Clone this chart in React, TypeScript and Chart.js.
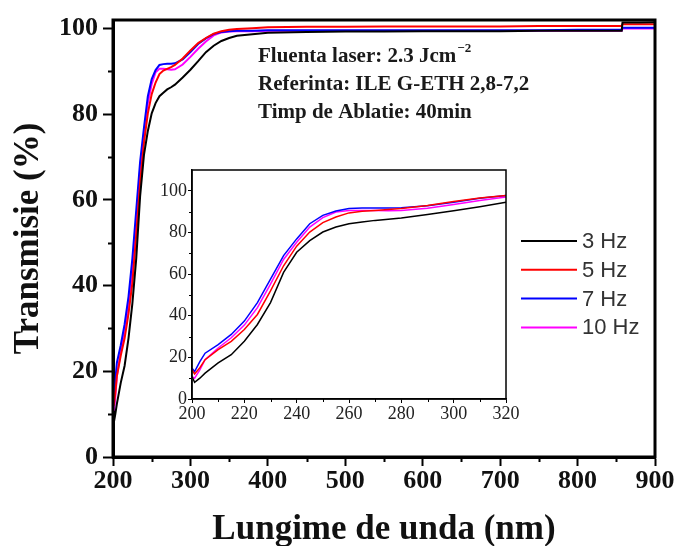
import React, { useEffect, useRef } from 'react';
import { Chart, registerables } from 'chart.js';

Chart.register(...registerables);

// ---- data ----
const WAVELENGTH_NM = [200, 201, 203, 205, 210, 215, 220, 225, 230, 235, 240, 245, 250, 255, 260, 265, 270, 275, 280, 290, 300, 310, 320, 330, 340, 350, 360, 380, 400, 450, 500, 550, 600, 650, 700, 750, 800, 850, 857, 858, 880, 900];

const T_3HZ = [10.8, 8.0, 10.0, 12.4, 17.3, 21.3, 27.7, 35.8, 46.3, 60.8,
  70.5, 76.1, 80.2, 82.6, 84.2, 85.0, 85.8, 86.3, 86.9, 88.6,
  90.4, 92.4, 94.5, 96.0, 97.1, 97.8, 98.3, 98.7, 99.0, 99.2,
  99.3, 99.3, 99.4, 99.4, 99.4, 99.5, 99.5, 99.5, 99.5, 101.4,
  101.4, 101.5];

const T_5HZ = [14.0, 12.0, 15.0, 18.9, 23.7, 27.7, 33.4, 40.6, 51.9, 64.0,
  73.4, 80.2, 84.7, 87.4, 89.4, 90.2, 90.6, 91.0, 91.5, 93.0,
  94.9, 96.6, 97.8, 98.8, 99.4, 99.7, 99.9, 100.1, 100.3, 100.4,
  100.4, 100.5, 100.5, 100.5, 100.5, 100.6, 100.6, 100.6, 100.6, 101.0,
  101.0, 101.0];

const T_7HZ = [14.8, 13.2, 18.0, 22.0, 26.1, 31.0, 37.4, 46.3, 57.6, 68.9,
  76.9, 84.2, 88.2, 90.3, 91.5, 91.7, 91.8, 91.8, 91.9, 92.8,
  94.5, 96.4, 97.7, 98.7, 99.2, 99.4, 99.5, 99.5, 99.6, 99.6,
  99.6, 99.6, 99.6, 99.6, 99.6, 99.6, 99.7, 99.7, 99.7, 100.2,
  100.2, 100.2];

const T_10HZ = [10.8, 10.0, 14.0, 18.9, 24.5, 29.4, 35.5, 43.9, 55.2, 67.0,
  75.3, 82.6, 87.1, 89.8, 90.6, 90.6, 90.5, 90.4, 90.5, 91.6,
  93.4, 95.3, 97.0, 98.4, 99.1, 99.3, 99.4, 99.4, 99.5, 99.5,
  99.5, 99.5, 99.5, 99.5, 99.5, 99.5, 99.5, 99.5, 99.5, 100.0,
  100.0, 100.0];

const SERIES_LABELS = ['3 Hz', '5 Hz', '7 Hz', '10 Hz'];
const SERIES_VALUES = [T_3HZ, T_5HZ, T_7HZ, T_10HZ];
const SERIES_COLORS = ['#000000', '#ff0000', '#0000ff', '#ff00ff'];

const MAIN_X_TICKS = [200, 300, 400, 500, 600, 700, 800, 900];
const MAIN_X_MINOR = [250, 350, 450, 550, 650, 750, 850];
const MAIN_Y_TICKS = [0, 20, 40, 60, 80, 100];
const MAIN_Y_MINOR = [10, 30, 50, 70, 90];

const INSET_X_TICKS = [200, 220, 240, 260, 280, 300, 320];
const INSET_X_MINOR = [210, 230, 250, 270, 290, 310];
const INSET_Y_TICKS = [0, 20, 40, 60, 80, 100];
const INSET_Y_MINOR = [10, 30, 50, 70, 90];

const NOTE_LINES = ['Fluenta laser: 2.3 Jcm', 'Referinta: ILE G-ETH 2,8-7,2', 'Timp de Ablatie: 40min'];
const NOTE_SUPERSCRIPT = '\u22122';

const X_TITLE = 'Lungime de unda (nm)';
const Y_TITLE = 'Transmisie (%)';

// ---- styling ----
const SERIF = "'Liberation Serif', 'Times New Roman', serif";
const SANS = "'Liberation Sans', Arial, sans-serif";

function makeDatasets(width: number) {
  return SERIES_LABELS.map((label, i) => ({
    label,
    data: WAVELENGTH_NM.map((x, j) => ({ x, y: SERIES_VALUES[i][j] })),
    borderColor: SERIES_COLORS[i],
    backgroundColor: SERIES_COLORS[i],
    borderWidth: width,
    pointRadius: 0,
    tension: 0,
    fill: false,
  }));
}

const framePlugin = {
  id: 'frame',
  afterDraw(chart: any, _args: any, opts: any) {
    const { ctx, chartArea: a, scales } = chart;
    ctx.save();
    ctx.strokeStyle = '#000';
    ctx.lineWidth = opts.width;
    ctx.strokeRect(a.left, a.top, a.right - a.left, a.bottom - a.top);
    ctx.lineWidth = opts.minorWidth;
    ctx.beginPath();
    for (const v of opts.xMinor) {
      const px = Math.round(scales.x.getPixelForValue(v)) + 0.5;
      ctx.moveTo(px, a.bottom);
      ctx.lineTo(px, a.bottom + opts.minorLen);
    }
    for (const v of opts.yMinor) {
      const py = Math.round(scales.y.getPixelForValue(v)) + 0.5;
      ctx.moveTo(a.left - opts.minorLen, py);
      ctx.lineTo(a.left, py);
    }
    ctx.stroke();
    ctx.restore();
  },
};

const notesPlugin = {
  id: 'notes',
  afterDraw(chart: any) {
    const { ctx } = chart;
    ctx.save();
    ctx.fillStyle = '#1a1a1a';
    ctx.textBaseline = 'middle';
    ctx.textAlign = 'left';
    const ys = [57, 85, 113];
    NOTE_LINES.forEach((t, i) => {
      ctx.font = `bold 21px ${SERIF}`;
      ctx.fillText(t, 258, ys[i]);
      if (i === 0) {
        const w = ctx.measureText(t).width;
        ctx.font = `bold 13px ${SERIF}`;
        ctx.fillText(NOTE_SUPERSCRIPT, 258 + w + 1, ys[i] - 8);
      }
    });
    // legend
    ctx.font = `22px ${SANS}`;
    chart.data.datasets.forEach((ds: any, i: number) => {
      const y = 241 + i * 28.8;
      ctx.strokeStyle = ds.borderColor;
      ctx.lineWidth = 2;
      ctx.beginPath();
      ctx.moveTo(521, y);
      ctx.lineTo(577, y);
      ctx.stroke();
      ctx.fillStyle = '#333';
      ctx.fillText(ds.label, 582, y + 1);
    });
    ctx.restore();
  },
};

function setTicks(list: number[]) {
  return (s: any) => {
    s.ticks = list.map((value) => ({ value }));
  };
}

export default function App() {
  const mainRef = useRef<HTMLCanvasElement>(null);
  const insetRef = useRef<HTMLCanvasElement>(null);

  useEffect(() => {
    const main = new Chart(mainRef.current as HTMLCanvasElement, {
      type: 'line',
      data: { datasets: makeDatasets(2) as any },
      options: {
        animation: false,
        responsive: false,
        devicePixelRatio: 1,
        layout: { padding: { top: 20, right: 19, left: 0, bottom: 0 } },
        plugins: {
          legend: { display: false },
          tooltip: { enabled: false },
          frame: { width: 3, minorWidth: 2, minorLen: 5, xMinor: MAIN_X_MINOR, yMinor: MAIN_Y_MINOR },
        } as any,
        scales: {
          x: {
            type: 'linear',
            min: 200,
            max: 900,
            afterBuildTicks: setTicks(MAIN_X_TICKS),
            afterFit: (s: any) => { s.height = 89; s.paddingLeft = 0; s.paddingRight = 0; },
            grid: { drawOnChartArea: false, drawTicks: true, tickLength: 9, tickWidth: 2, tickColor: '#000' },
            border: { display: true, color: '#000', width: 3 },
            ticks: { color: '#111', font: { family: SERIF, size: 26, weight: 'bold' }, padding: 0, maxRotation: 0, autoSkip: false },
            title: { display: true, text: X_TITLE, color: '#111', font: { family: SERIF, size: 35, weight: 'bold', lineHeight: 0.9 }, padding: 0 },
          },
          y: {
            type: 'linear',
            min: 0,
            max: 102,
            afterBuildTicks: setTicks(MAIN_Y_TICKS),
            afterFit: (s: any) => { s.width = 113; s.paddingTop = 0; s.paddingBottom = 0; },
            grid: { drawOnChartArea: false, drawTicks: true, tickLength: 10, tickWidth: 2, tickColor: '#000' },
            border: { display: true, color: '#000', width: 3 },
            ticks: { color: '#111', font: { family: SERIF, size: 26, weight: 'bold' }, padding: 5, autoSkip: false },
            title: { display: true, text: Y_TITLE, color: '#111', font: { family: SERIF, size: 35, weight: 'bold', lineHeight: 0.9 }, padding: { top: 13, bottom: 0 } },
          },
        } as any,
      },
      plugins: [framePlugin, notesPlugin],
    });

    const inset = new Chart(insetRef.current as HTMLCanvasElement, {
      type: 'line',
      data: { datasets: makeDatasets(1.5) as any },
      options: {
        animation: false,
        responsive: false,
        devicePixelRatio: 1,
        layout: { padding: { top: 10, right: 24, left: 0, bottom: 0 } },
        plugins: {
          legend: { display: false },
          tooltip: { enabled: false },
          frame: { width: 1.5, minorWidth: 1, minorLen: 3, xMinor: INSET_X_MINOR, yMinor: INSET_Y_MINOR },
        } as any,
        scales: {
          x: {
            type: 'linear',
            min: 200,
            max: 320,
            afterBuildTicks: setTicks(INSET_X_TICKS),
            afterFit: (s: any) => { s.height = 31; s.paddingLeft = 0; s.paddingRight = 0; },
            grid: { drawOnChartArea: false, drawTicks: true, tickLength: 4, tickWidth: 1, tickColor: '#000' },
            border: { display: true, color: '#000', width: 1.5 },
            ticks: { color: '#222', font: { family: SERIF, size: 18 }, padding: 0, maxRotation: 0, autoSkip: false },
          },
          y: {
            type: 'linear',
            min: 0,
            max: 110,
            afterBuildTicks: setTicks(INSET_Y_TICKS),
            afterFit: (s: any) => { s.width = 42; s.paddingTop = 0; s.paddingBottom = 0; },
            grid: { drawOnChartArea: false, drawTicks: true, tickLength: 4, tickWidth: 1, tickColor: '#000' },
            border: { display: true, color: '#000', width: 1.5 },
            ticks: { color: '#222', font: { family: SERIF, size: 18 }, padding: 1, autoSkip: false },
          },
        } as any,
      },
      plugins: [framePlugin],
    });

    return () => {
      main.destroy();
      inset.destroy();
    };
  }, []);

  return (
    <div style={{ position: 'fixed', left: 0, top: 0, width: 674, height: 546, background: '#fff' }}>
      <canvas ref={mainRef} width={674} height={546} style={{ position: 'absolute', left: 0, top: 0 }} />
      <canvas ref={insetRef} width={380} height={270} style={{ position: 'absolute', left: 150, top: 160 }} />
    </div>
  );
}
